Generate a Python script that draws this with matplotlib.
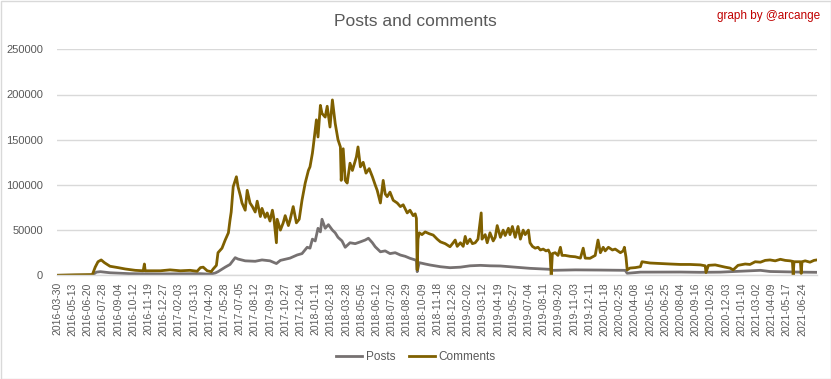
import matplotlib
matplotlib.use("Agg")
import matplotlib.pyplot as plt
from matplotlib.patches import Rectangle

plt.rcParams['font.family'] = ['Liberation Sans', 'DejaVu Sans']

tick_labels = ["2016-03-30", "2016-05-13", "2016-06-20", "2016-07-28", "2016-09-04", "2016-10-12",
               "2016-11-19", "2016-12-27", "2017-02-03", "2017-03-13", "2017-04-20", "2017-05-28",
               "2017-07-05", "2017-08-12", "2017-09-19", "2017-10-27", "2017-12-04", "2018-01-11",
               "2018-02-18", "2018-03-28", "2018-05-05", "2018-06-12", "2018-07-20", "2018-08-29",
               "2018-10-09", "2018-11-18", "2018-12-26", "2019-02-02", "2019-03-12", "2019-04-19",
               "2019-05-27", "2019-07-04", "2019-08-11", "2019-09-20", "2019-11-03", "2019-12-11",
               "2020-01-18", "2020-02-25", "2020-04-08", "2020-05-16", "2020-06-25", "2020-08-04",
               "2020-09-16", "2020-10-26", "2020-12-03", "2021-01-10", "2021-03-02", "2021-04-09",
               "2021-05-17", "2021-06-24"]
label_step = 38
n_days = 1900

# day index (category position) and values
comments_day = [0, 45, 88, 95, 102, 110, 118, 132, 152, 170, 195, 215, 218, 220, 258, 282, 308, 332,
                350, 358, 365, 375, 385, 390, 398, 402, 412, 420, 428, 432, 435, 440, 448, 452, 458,
                462, 470, 475, 482, 488, 495, 500, 508, 512, 520, 525, 532, 538, 542, 548, 550, 558,
                565, 570, 578, 582, 590, 598, 605, 612, 620, 628, 632, 638, 640, 645, 648, 652, 658,
                662, 670, 675, 682, 688, 695, 702, 708, 710, 715, 720, 725, 732, 738, 748, 752, 758,
                765, 772, 780, 788, 795, 800, 808, 815, 820, 825, 832, 840, 850, 858, 865, 875, 882,
                890, 895, 898, 900, 902, 905, 912, 920, 930, 940, 950, 958, 970, 982, 990, 995, 1000,
                1008, 1015, 1020, 1025, 1032, 1038, 1045, 1052, 1060, 1062, 1070, 1075, 1082, 1090,
                1095, 1100, 1108, 1115, 1120, 1128, 1132, 1138, 1145, 1152, 1158, 1165, 1170, 1178,
                1182, 1188, 1195, 1202, 1208, 1215, 1222, 1228, 1232, 1235, 1238, 1245, 1252, 1258,
                1262, 1270, 1282, 1295, 1308, 1315, 1320, 1332, 1345, 1352, 1358, 1365, 1370, 1378,
                1388, 1395, 1408, 1415, 1418, 1422, 1425, 1432, 1445, 1458, 1462, 1482, 1508, 1532,
                1558, 1582, 1608, 1620, 1622, 1628, 1645, 1670, 1682, 1690, 1702, 1720, 1732, 1745,
                1758, 1770, 1782, 1795, 1808, 1820, 1832, 1838, 1840, 1842, 1858, 1860, 1862, 1870,
                1882, 1892, 1899]
comments = [0, 500, 800, 9000, 15000, 17000, 14000, 10000, 8500, 7000, 5500, 5000, 12500, 5000, 5000,
            6000, 5000, 5500, 4500, 8500, 9000, 5000, 4000, 7000, 11000, 25000, 30000, 39000, 47000,
            61000, 70000, 98000, 109000, 98000, 88000, 80000, 72000, 94000, 80000, 76000, 70000, 82000,
            65000, 74000, 64000, 69000, 60000, 72000, 62000, 36000, 62000, 50000, 58000, 66000, 55000,
            61000, 76000, 58000, 62000, 83000, 102000, 116000, 120000, 135000, 142000, 161000, 172000,
            153000, 188000, 179000, 175000, 187000, 164000, 194000, 168000, 150000, 142000, 105000,
            140000, 105000, 102000, 124000, 116000, 131000, 142000, 120000, 125000, 113000, 118000,
            109000, 100000, 94000, 80000, 105000, 90000, 87000, 92000, 83000, 80000, 76000, 78000,
            69000, 72000, 66000, 68000, 63000, 6000, 40000, 47000, 45000, 48000, 46000, 44500, 40000,
            37000, 35000, 31600, 36000, 39000, 32000, 36000, 32000, 43000, 35000, 40000, 35000, 36000,
            40000, 69000, 40000, 45000, 36000, 47000, 38000, 42000, 55000, 42000, 50000, 44000, 52000,
            45000, 54000, 42000, 54000, 40000, 50000, 45000, 50000, 36000, 32000, 30000, 31000, 28000,
            29000, 27000, 28000, 24000, 0, 24000, 25000, 22000, 31000, 22000, 22000, 21000, 20500,
            19000, 30000, 19000, 18800, 22000, 39000, 25000, 31000, 27000, 31000, 28000, 29000, 25000,
            27000, 31000, 20000, 6000, 8000, 8500, 9500, 15000, 13600, 13000, 12500, 12000, 12000,
            11500, 10500, 3000, 11000, 11500, 9000, 8000, 6000, 11000, 12500, 12000, 15000, 14500,
            16500, 17000, 16000, 17700, 16500, 16000, 15500, 500, 15000, 15000, 2000, 15000, 16000,
            14500, 16500, 17000]

posts_day = [0, 88, 98, 108, 132, 182, 258, 358, 382, 395, 402, 420, 432, 445, 452, 470, 495, 512,
             532, 548, 558, 582, 600, 612, 625, 632, 638, 645, 652, 658, 662, 670, 678, 688, 695, 702,
             712, 720, 732, 745, 758, 770, 778, 788, 795, 808, 820, 832, 845, 858, 870, 882, 895, 898,
             900, 905, 920, 932, 958, 982, 1008, 1032, 1058, 1082, 1108, 1145, 1182, 1232, 1238, 1295,
             1358, 1420, 1425, 1458, 1558, 1608, 1658, 1758, 1782, 1858, 1899]
posts = [0, 200, 3500, 4000, 2800, 1800, 1500, 1800, 1200, 2500, 4000, 9000, 12000, 19500, 18000,
         16000, 15500, 17000, 16000, 13000, 16500, 19000, 22500, 24000, 31000, 30000, 40000, 38000,
         52000, 48000, 62000, 52000, 56000, 50000, 47000, 42000, 38000, 31000, 36000, 35000, 37000,
         39000, 41000, 36000, 31600, 26000, 27000, 24000, 25000, 22400, 21000, 18800, 17000, 16000,
         4000, 14000, 12500, 11400, 9500, 8400, 9000, 10500, 11000, 10500, 10300, 9000, 7700, 6600,
         5500, 6000, 5800, 5500, 2200, 3500, 3600, 3300, 3500, 5500, 4200, 3500, 3300]

fig = plt.figure(figsize=(8.31, 3.79), dpi=100)
ax = fig.add_axes([57 / 831, 1 - 275.3 / 379, 760 / 831, 226 / 379])

posts_color = "#767171"
comments_color = "#7F6000"
ax.plot(posts_day, posts, color=posts_color, lw=2.0, label="Posts", solid_joinstyle="round")
ax.plot(comments_day, comments, color=comments_color, lw=2.0, label="Comments", solid_joinstyle="round")

ax.set_xlim(-0.5, n_days - 0.5)
ax.set_ylim(0, 250000)
ax.set_yticks(range(0, 250001, 50000))
ax.set_yticklabels([str(v) for v in range(0, 250001, 50000)])
ax.set_xticks([i * label_step for i in range(len(tick_labels))])
ax.set_xticklabels(tick_labels, rotation=90)
ax.tick_params(axis='x', length=0, pad=5, labelsize=7.5, colors="#595959")
ax.tick_params(axis='y', length=0, pad=10, labelsize=8, colors="#595959")
ax.grid(axis='y', color="#D9D9D9", lw=1.0)
ax.set_axisbelow(True)
for s in ['top', 'right', 'left']:
    ax.spines[s].set_visible(False)
ax.spines['bottom'].set_color("#D9D9D9")
ax.spines['bottom'].set_linewidth(1.0)

fig.text(415 / 831, 1 - 21 / 379, "Posts and comments", ha='center', va='center',
         fontsize=12.5, color="#595959")
fig.text(820 / 831, 1 - 16 / 379, "graph by @arcange", ha='right', va='center',
         fontsize=8.5, color="#C00000")

fig.legend(loc='center', bbox_to_anchor=(416 / 831, 1 - 357 / 379), ncol=2, frameon=False,
           fontsize=8.5, labelcolor="#595959", handlelength=2.2, columnspacing=1.2, handletextpad=0.3)

fig.patches.append(Rectangle((0.5 / 831, 0.5 / 379), 830 / 831, 378 / 379, transform=fig.transFigure,
                             fill=False, edgecolor="#D9D9D9", lw=1.0))

fig.savefig("out.png", dpi=100)
